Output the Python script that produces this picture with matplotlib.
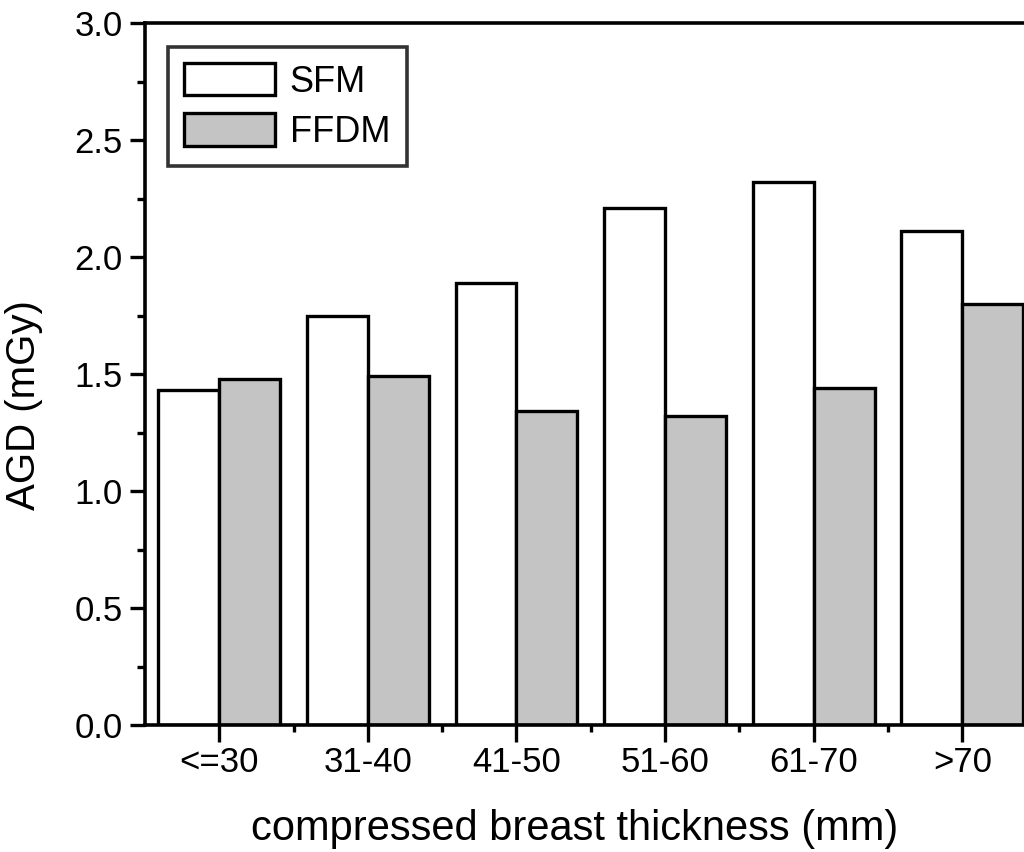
import numpy as np
import matplotlib
matplotlib.use('Agg')
import matplotlib.pyplot as plt
from matplotlib.ticker import MultipleLocator, FixedLocator

plt.rcParams['font.family'] = ['Liberation Sans', 'DejaVu Sans']

categories = ['<=30', '31-40', '41-50', '51-60', '61-70', '>70']
sfm = [1.43, 1.75, 1.89, 2.21, 2.32, 2.11]
ffdm = [1.48, 1.49, 1.34, 1.32, 1.44, 1.80]

x = np.arange(len(categories))
w = 0.41

fig = plt.figure(figsize=(10.24, 8.52), dpi=100)
ax = fig.add_axes([0.1416, 0.149, 0.8707, 0.824])

ax.bar(x - w / 2, sfm, w, color='white', edgecolor='black', linewidth=2.4, label='SFM')
ax.bar(x + w / 2, ffdm, w, color='#c4c4c4', edgecolor='black', linewidth=2.4, label='FFDM')

ax.set_xlim(-0.5, 5.5)
ax.set_ylim(0, 3.0)
ax.set_xticks(x)
ax.set_xticklabels(categories)
ax.xaxis.set_minor_locator(FixedLocator(x[:-1] + 0.5))
ax.yaxis.set_major_locator(MultipleLocator(0.5))
ax.yaxis.set_minor_locator(MultipleLocator(0.25))
ax.yaxis.set_major_formatter(plt.FormatStrFormatter('%.1f'))

ax.tick_params(axis='both', which='both', direction='out', width=2.4, labelsize=25)
ax.tick_params(axis='y', which='major', length=11, pad=5)
ax.tick_params(axis='y', which='minor', length=6)
ax.tick_params(axis='x', which='major', length=12, pad=3)
ax.tick_params(axis='x', which='minor', length=5)

for s in ax.spines.values():
    s.set_linewidth(2.6)

ax.set_xlabel('compressed breast thickness (mm)', fontsize=30)
ax.set_ylabel('AGD (mGy)', fontsize=29)
ax.xaxis.set_label_coords(0.482, -0.12)
ax.yaxis.set_label_coords(-0.114, 0.456)

leg = ax.legend(loc='upper left', bbox_to_anchor=(0.026, 0.966), borderaxespad=0,
                fontsize=26, frameon=True, fancybox=False, handlelength=2.5,
                handleheight=1.0, handletextpad=0.42, labelspacing=0.38,
                borderpad=0.45)
leg.get_frame().set_edgecolor('black')
leg.get_frame().set_linewidth(2.6)

fig.savefig('out.png', dpi=100)
